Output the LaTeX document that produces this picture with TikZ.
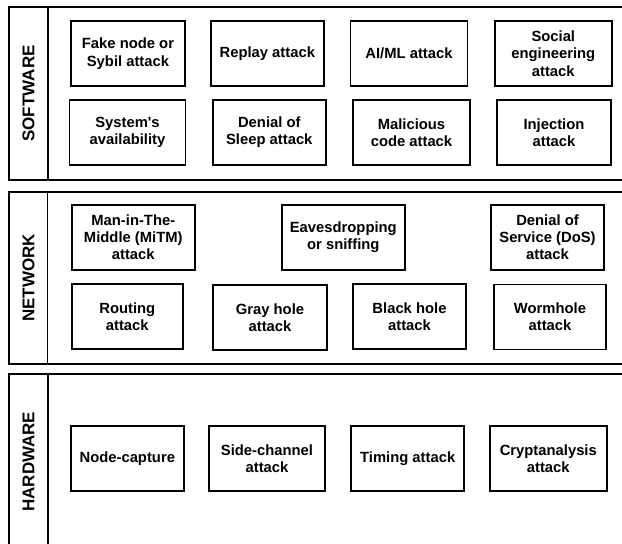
\documentclass[tikz,border=0pt]{standalone}
\usepackage{fontspec}
\setmainfont{Liberation Sans}[Ligatures=TeXOff]
\tikzset{
  attack/.style={draw, line width=1.5pt, align=center, inner sep=0pt,
    minimum width=114pt, minimum height=65pt,
    font=\fontsize{14.8}{17.2}\selectfont\bfseries},
  layer/.style={rotate=90, font=\fontsize{17}{20}\selectfont\bfseries},
  panel/.style={draw, line width=1.5pt}
}
\begin{document}
\begin{tikzpicture}[x=1pt,y=-1pt]
\clip (0,0) rectangle (622,544);
\useasboundingbox (0,0) rectangle (622,544);

\draw[panel] (9,7) rectangle (640,180);
\draw[panel] (48,7)--(48,180);
\node[layer] (software) at (28.5,93.5) {SOFTWARE};

\node[attack] (sybil) at (128,53.7) {Fake node or\\Sybil attack};
\node[attack, minimum width=113pt] (replay) at (267.3,53.7) {Replay attack};
\node[attack, minimum width=117pt] (aiml) at (409,53.7) {AI/ML attack};
\node[attack, minimum width=117pt] (social) at (553.3,53.7) {Social\\engineering\\attack};

\node[attack, minimum width=116pt] (avail) at (127.5,132.5) {System's\\availability};
\node[attack, minimum width=113pt] (sleep) at (269.3,132.5) {Denial of\\Sleep attack};
\node[attack, minimum width=117pt] (malicious) at (411.5,132.5) {Malicious\\code attack};
\node[attack] (injection) at (554,132.5) {Injection\\attack};

\draw[panel] (9,192) rectangle (640,364);
\draw[panel] (47.5,192)--(47.5,364);
\node[layer] (network) at (28.5,278) {NETWORK};

\node[attack, minimum width=123pt] (mitm) at (133.3,237.5) {Man-in-The-\\Middle (MiTM)\\attack};
\node[attack, minimum width=123pt] (sniff) at (343.3,237.5) {Eavesdropping\\or sniffing};
\node[attack, minimum width=113pt] (dos) at (547.5,237.5) {Denial of\\Service (DoS)\\attack};

\node[attack, minimum width=111pt] (routing) at (127.3,316.5) {Routing\\attack};
\node[attack] (gray) at (270,317.5) {Gray hole\\attack};
\node[attack, minimum width=113pt] (black) at (409.5,316.5) {Black hole\\attack};
\node[attack, minimum width=112pt] (wormhole) at (550,317) {Wormhole\\attack};

\draw[panel] (9,374) rectangle (640,549.5);
\draw[panel] (48,374)--(48,549.5);
\node[layer] (hardware) at (28.5,461.7) {HARDWARE};

\node[attack, minimum width=113pt] (capture) at (127.3,458.5) {Node-capture};
\node[attack, minimum width=116pt] (sidechannel) at (267,458.5) {Side-channel\\attack};
\node[attack, minimum width=113pt] (timing) at (407.7,458.5) {Timing attack};
\node[attack, minimum width=117pt] (crypt) at (548.3,458.5) {Cryptanalysis\\attack};
\end{tikzpicture}
\end{document}
